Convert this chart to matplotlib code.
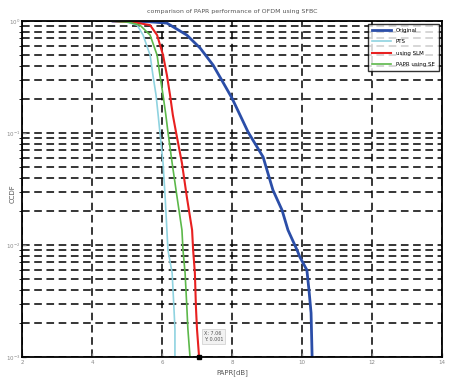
import numpy as np
import matplotlib
matplotlib.use('Agg')
import matplotlib.pyplot as plt
from matplotlib.ticker import LogLocator, NullFormatter

# CCDF curves (x = PAPR in dB, y = log10(CCDF))
ly = [0, -0.01, -0.036, -0.125, -0.304, -0.482, -0.661, -0.839, -0.991,
      -1.268, -1.571, -1.866, -2.045, -2.25, -2.554, -2.75, -3]
x_pts = [4.6, 5.0, 5.29, 5.46, 5.66, 5.74, 5.83, 5.89, 5.94,
         6.03, 6.09, 6.14, 6.17, 6.29, 6.34, 6.37, 6.37]
x_se = [4.6, 5.05, 5.37, 5.66, 5.86, 5.94, 6.03, 6.11, 6.17,
        6.29, 6.43, 6.57, 6.6, 6.66, 6.71, 6.74, 6.8]
x_slm = [4.6, 5.2, 5.66, 5.86, 6.03, 6.14, 6.23, 6.31, 6.4,
         6.57, 6.71, 6.86, 6.89, 6.94, 6.97, 7.0, 7.06]

ly_org = [0, -0.005, -0.018, -0.125, -0.241, -0.393, -0.545, -0.688, -0.839,
          -0.991, -1.214, -1.509, -1.688, -1.866, -2.045, -2.107, -2.223,
          -2.402, -2.607, -3]
x_org = [4.6, 5.6, 6.14, 6.71, 7.09, 7.46, 7.74, 8.0, 8.23,
         8.46, 8.89, 9.17, 9.43, 9.6, 9.86, 9.94, 10.14,
         10.2, 10.26, 10.29]

labels = ['Original', 'PTS', 'using SLM', 'PAPR using SE']

fig = plt.figure(figsize=(4.53, 3.87), dpi=100)
ax = fig.add_axes([0.0486, 0.0775, 0.927, 0.868])

ax.semilogy(x_org, 10 ** np.array(ly_org), color='#2b4ea8', lw=2, label=labels[0])
ax.semilogy(x_pts, 10 ** np.array(ly), color='#8fd3e0', lw=1.2, label=labels[1])
ax.semilogy(x_slm, 10 ** np.array(ly), color='#e82020', lw=1.5, label=labels[2])
ax.semilogy(x_se, 10 ** np.array(ly), color='#5cb84a', lw=1.2, label=labels[3])

ax.set_xlim(2, 14)
ax.set_ylim(1e-3, 1)
ax.set_xticks([2, 4, 6, 8, 10, 12, 14])
ax.yaxis.set_minor_locator(LogLocator(base=10, subs=np.arange(2, 10)))
ax.yaxis.set_minor_formatter(NullFormatter())
ax.grid(True, which='major', color='black', ls=(0, (5, 3)), lw=1.1)
ax.grid(True, which='minor', axis='y', color='black', ls=(0, (5, 3)), lw=1.1)
ax.tick_params(labelsize=4, colors='#888888', length=3, width=1,
               direction='in', pad=2)
ax.tick_params(axis='y', pad=1)
ax.tick_params(which='minor', length=2)
for s in ax.spines.values():
    s.set_linewidth(1.3)

ax.set_title('comparison of PAPR performance of OFDM using SFBC', fontsize=4.5,
             color='#555555', pad=6)
ax.set_xlabel('PAPR[dB]', fontsize=5, color='#555555', labelpad=3)
fig.text(0.028, 0.5, 'CCDF', fontsize=5, color='#555555', rotation=90,
         ha='center', va='center')

leg = ax.legend(loc='upper right', fontsize=4, frameon=True, fancybox=False,
                edgecolor='black', handlelength=3.5, borderpad=0.8,
                labelspacing=1.1)
leg.get_frame().set_linewidth(1)

# data tip at the bottom of the red curve
ax.plot(x_slm[-1], 1e-3, 's', color='black', ms=3, clip_on=False)
ax.annotate('X: %.2f\nY: 0.001' % x_slm[-1], xy=(x_slm[-1], 1e-3),
            xytext=(7.2, 1.4e-3), fontsize=3.5, color='#555555',
            bbox=dict(boxstyle='square,pad=0.4', fc='#f2f2f2', ec='#cccccc', lw=0.5))

fig.savefig('out.png', dpi=100)
